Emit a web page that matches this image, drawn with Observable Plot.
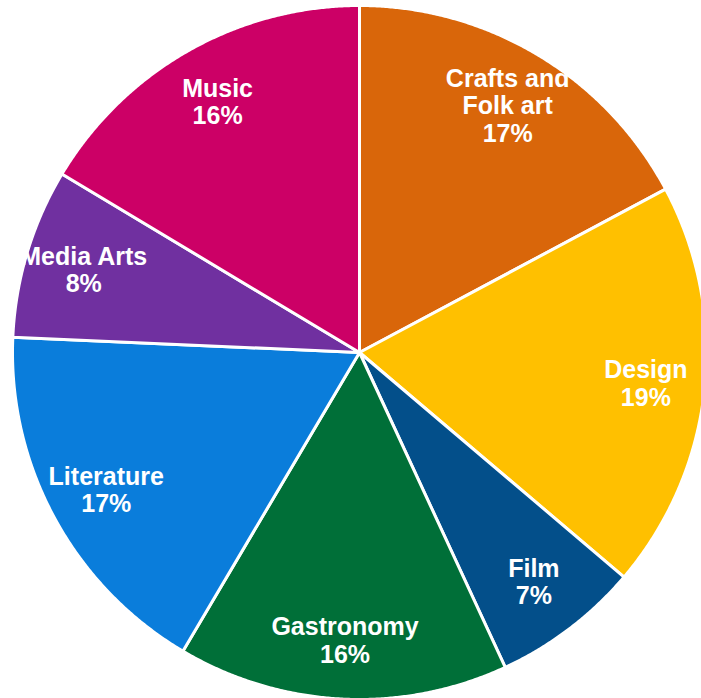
<!DOCTYPE html>
<html>
<head>
<meta charset="utf-8">
<script src="https://cdn.jsdelivr.net/npm/d3@7"></script>
<script src="https://cdn.jsdelivr.net/npm/@observablehq/plot@0.6"></script>
<style>
  html, body { margin: 0; padding: 0; background: #ffffff; overflow: hidden; }
  #chart { width: 701px; height: 698px; }
</style>
</head>
<body>
<div id="chart"></div>
<script>
// Data (clockwise from 12 o'clock)
const categories = ["Crafts and Folk art", "Design", "Film", "Gastronomy", "Literature", "Media Arts", "Music"];
const labelLines = ["Crafts and\nFolk art", "Design", "Film", "Gastronomy", "Literature", "Media Arts", "Music"];
// slice sizes (percent)
const shares = [17.2, 19.0, 6.9, 15.4, 17.2, 7.9, 16.4];
// percentages printed on the chart
const percentText = ["17%", "19%", "7%", "16%", "17%", "8%", "16%"];
const colors = ["#D9660A", "#FFC000", "#034F8A", "#006F38", "#0A7DDB", "#7030A0", "#CC0066"];

const arcs = d3.pie().sort(null).value(d => d)(shares);

// Slice outlines in unit coordinates (built from the pie angles)
const slicePts = [];
arcs.forEach((a, i) => {
  const cat = categories[i];
  slicePts.push({cat, x: 0, y: 0});
  const n = Math.max(2, Math.ceil((a.endAngle - a.startAngle) / 0.005));
  for (let k = 0; k <= n; k++) {
    const t = a.startAngle + (a.endAngle - a.startAngle) * k / n;
    slicePts.push({cat, x: Math.sin(t), y: Math.cos(t)});
  }
  slicePts.push({cat, x: 0, y: 0});
});

const labelR = 0.83;
const labelData = arcs.map((a, i) => {
  const m = (a.startAngle + a.endAngle) / 2;
  return {
    cat: categories[i],
    x: labelR * Math.sin(m),
    y: labelR * Math.cos(m),
    text: labelLines[i] + "\n" + percentText[i]
  };
});

const chart = Plot.plot({
  width: 701,
  height: 698,
  margin: 0,
  x: {domain: [-1, 1], range: [12, 706], axis: null},
  y: {domain: [-1, 1], range: [699, 5], axis: null},
  color: {domain: categories, range: colors},
  style: {background: "#ffffff"},
  marks: [
    Plot.line(slicePts, {
      x: "x", y: "y", z: "cat", fill: "cat",
      stroke: "#ffffff", strokeWidth: 3, strokeLinejoin: "round"
    }),
    Plot.text(labelData, {
      x: "x", y: "y", text: "text",
      fill: "#ffffff",
      fontSize: 25,
      fontWeight: "bold",
      fontFamily: "'Liberation Sans', Arial, sans-serif",
      lineHeight: 1.1
    })
  ]
});
document.getElementById("chart").appendChild(chart);
</script>
</body>
</html>
